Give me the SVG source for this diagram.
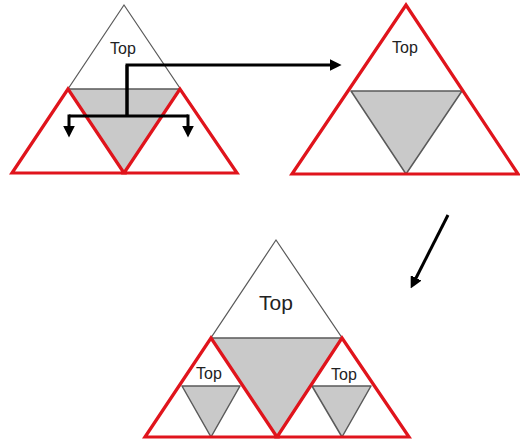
<svg xmlns="http://www.w3.org/2000/svg" width="520" height="440" viewBox="0 0 520 440">
  <style>
    .outline { fill: #ffffff; stroke: #5a5a5a; stroke-width: 1.2; stroke-linejoin: miter; }
    .shade { fill: #c9c9c9; stroke: #5a5a5a; stroke-width: 1.5; stroke-linejoin: round; }
    .red { fill: none; stroke: #e0141c; stroke-width: 3.2; stroke-linejoin: miter; }
    .lbl { font-family: "Liberation Sans", Arial, sans-serif; fill: #222; text-anchor: middle; }
    .conn { fill: none; stroke: #000; stroke-width: 3; }
  </style>
  <defs>
    <marker id="ah" markerUnits="userSpaceOnUse" markerWidth="12" markerHeight="12" viewBox="0 0 10 10" refX="2" refY="5" orient="auto">
      <path d="M0,0 L10,5 L0,10 Z" fill="#000"/>
    </marker>
  </defs>

  <rect x="0" y="0" width="520" height="440" fill="#ffffff"/>

  <g id="tri-split">
    <polygon class="outline" points="124,5 12,173 237,173"/>
    <polygon class="shade" points="68,89 180,89 124,173"/>
    <polygon class="red" points="68,89 12,173 124,173"/>
    <polygon class="red" points="180,89 124,173 237,173"/>
    <text class="lbl" x="123" y="54" font-size="16">Top</text>
  </g>

  <g id="tri-top">
    <polygon class="shade" points="351,91 462,91 406,174"/>
    <polygon class="red" points="406,5 292,174 518,174"/>
    <text class="lbl" x="405" y="53" font-size="16">Top</text>
  </g>

  <g id="tri-recursive">
    <polygon class="outline" points="276,240 145,437 409,437"/>
    <polygon class="shade" points="211,338 342,338 277,437"/>
    <polygon class="shade" points="182,386 240,386 211,437"/>
    <polygon class="shade" points="312,386 371,386 342,437"/>
    <polygon class="red" points="211,338 145,437 277,437"/>
    <polygon class="red" points="342,338 277,437 409,437"/>
    <text class="lbl" x="276" y="310" font-size="21">Top</text>
    <text class="lbl" x="209" y="379" font-size="16">Top</text>
    <text class="lbl" x="344" y="380" font-size="16">Top</text>
  </g>

  <g id="connectors">
    <path class="conn" d="M127,116 V65 H332" marker-end="url(#ah)"/>
    <path class="conn" d="M69,116 H188"/>
    <path class="conn" d="M127,65 V116"/>
    <path class="conn" d="M69,114.5 V128" marker-end="url(#ah)"/>
    <path class="conn" d="M188,114.5 V128" marker-end="url(#ah)"/>
    <path class="conn" d="M448,215 L415,280" marker-end="url(#ah)"/>
  </g>
</svg>
